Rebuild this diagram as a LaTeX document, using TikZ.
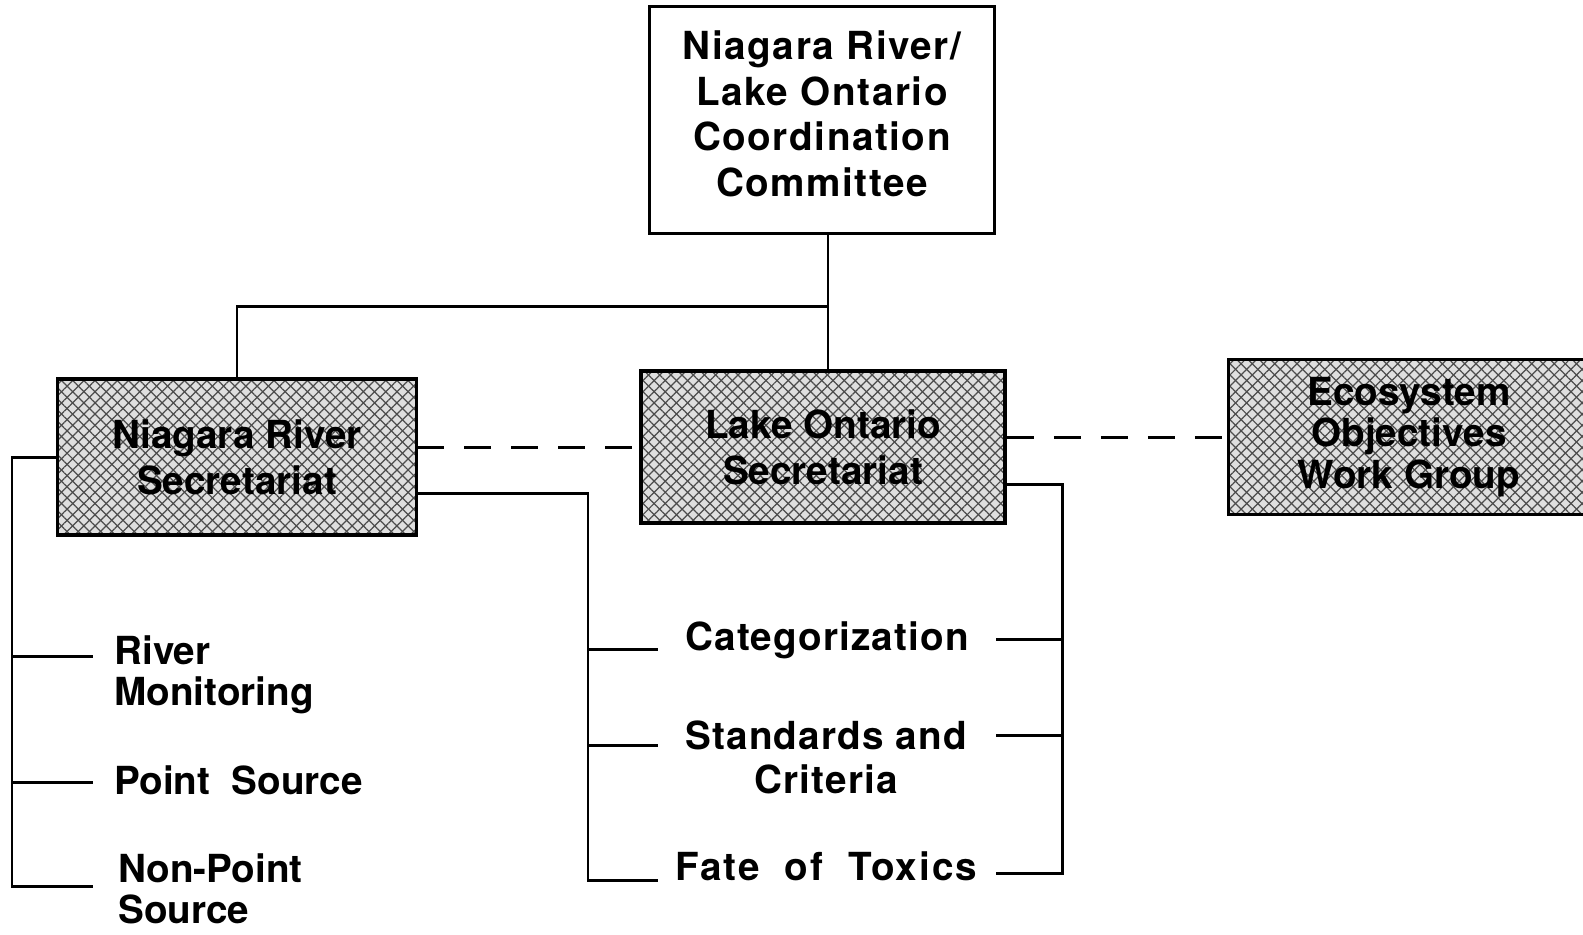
\documentclass[tikz,border=0pt]{standalone}
\usepackage{fontspec}
\setmainfont{TeX Gyre Heros}
\usetikzlibrary{patterns.meta}
\tikzset{
  link/.style={line width=1.7pt},
  chartbox/.style={draw, line width=1.7pt, align=center, inner sep=0pt,
    font=\bfseries\fontsize{22}{26}\selectfont},
  secbox/.style={chartbox, line width=2.2pt,
    preaction={fill=gray!25},
    preaction={pattern={Lines[angle=45,distance=4.5pt,line width=0.7pt]}, pattern color=black!70},
    pattern={Lines[angle=-45,distance=4.5pt,line width=0.7pt]}, pattern color=black!70},
  item/.style={inner sep=0pt, font=\bfseries\fontsize{22}{23}\selectfont},
}
\begin{document}
\begin{tikzpicture}[x=0.02cm,y=-0.02cm]
\useasboundingbox (0,0) rectangle (1583,934);
\clip (0,0) rectangle (1583,934);

% boxes
\node[chartbox, minimum width=6.92cm, minimum height=4.56cm, text depth=0.25cm] (top) at (822,120)
  {\addfontfeature{LetterSpace=4}Niagara River/\\\addfontfeature{LetterSpace=4}Lake Ontario\\
   \addfontfeature{LetterSpace=4}Coordination\\\addfontfeature{LetterSpace=4}Committee};
\node[secbox, minimum width=7.18cm, minimum height=3.12cm] (nr) at (237,457)
  {Niagara River\\Secretariat};
\node[secbox, minimum width=7.28cm, minimum height=3.04cm] (lo) at (823,447)
  {Lake Ontario\\Secretariat};
\node[secbox, minimum width=7.22cm, minimum height=3.1cm, font=\bfseries\fontsize{22}{23.5}\selectfont] (eco) at (1409,437)
  {Ecosystem\\Objectives\\Work Group};

% links from the committee
\coordinate (fork) at (828,306);
\draw[link] ([xshift=0.12cm]top.south) -- ([xshift=0.12cm]top.south |- lo.north);
\draw[link] (nr.north) |- (fork);
\draw[link, dash pattern=on 0.54cm off 0.4cm] (nr.east |- lo.west) -- (lo.west);
\draw[link, dash pattern=on 0.54cm off 0.4cm] (lo.east |- eco.west) -- (eco.west);

% work items
\node[item, align=left, anchor=west] (mon) at (114,675) {River\\Monitoring};
\node[item, anchor=west] (pts) at (114,780) {Point\ \ Source};
\node[item, align=left, anchor=west] (nps) at (118,889) {Non-Point\\Source};
\node[item] (cat) at (827,640) {\addfontfeature{LetterSpace=3}Categorization};
\node[item, align=center, font=\bfseries\fontsize{22}{25}\selectfont] (std) at (826,757)
  {\addfontfeature{LetterSpace=3}Standards and\\\addfontfeature{LetterSpace=3}Criteria};
\node[item] (fat) at (826,866) {\addfontfeature{LetterSpace=5}Fate\ \ of\ \ Toxics};

% left branch
\coordinate (spl) at (12,886);
\draw[link] (nr.west) -| (spl) -- (93,886);
\draw[link] (12,656) -- (93,656);
\draw[link] (12,782) -- (93,782);

% middle branch
\coordinate (spm) at (588,880);
\draw[link] ([yshift=0.84cm]nr.south east) -| (spm) -- (658,880);
\draw[link] (588,649) -- (658,649);
\draw[link] (588,745) -- (658,745);

% right branch
\coordinate (spr) at (1062,873);
\draw[link] ([yshift=0.8cm]lo.south east) -| (spr) -- (996,873);
\draw[link] (1062,639) -- (996,639);
\draw[link] (1062,735) -- (996,735);
\end{tikzpicture}
\end{document}
